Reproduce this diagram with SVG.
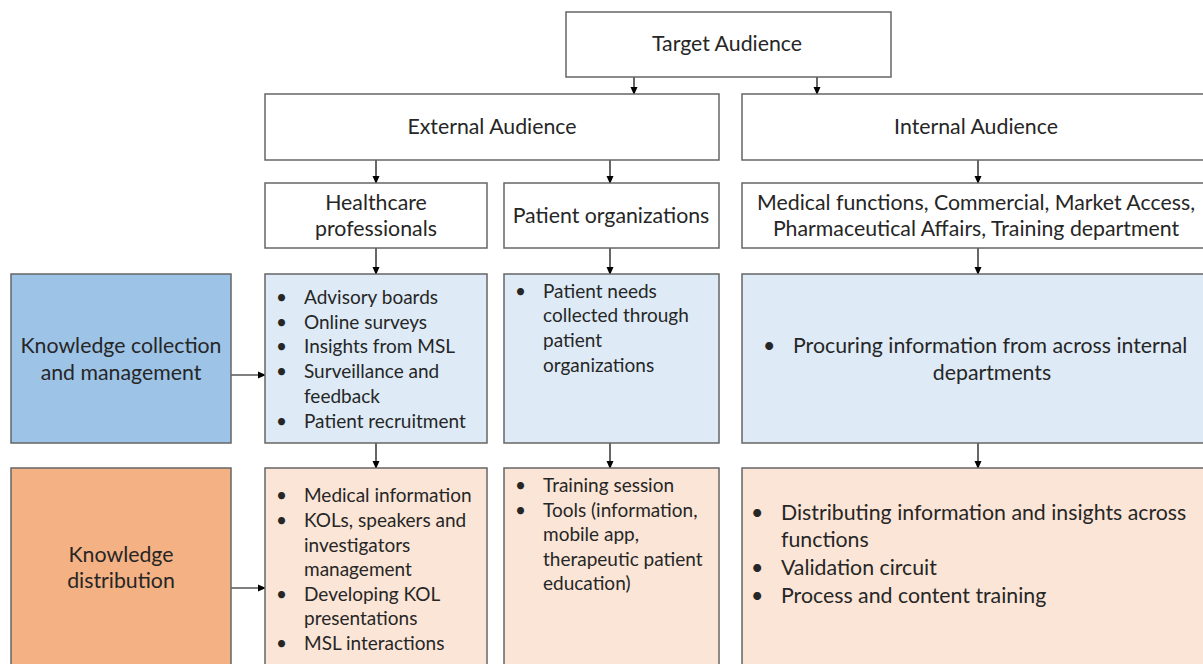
<svg xmlns="http://www.w3.org/2000/svg" width="1203" height="664" viewBox="0 0 1203 664">
<defs>
<marker id="ah" markerWidth="8" markerHeight="8" refX="7" refY="4" orient="auto" markerUnits="userSpaceOnUse">
<path d="M0,0.5 L8,4 L0,7.5 Z" fill="#000"/>
</marker>
<style>
.box{stroke:#666666;stroke-width:1.5}
.w{fill:#ffffff}
.lb{fill:#deebf7}
.db{fill:#9dc3e6}
.lo{fill:#fbe5d6}
.do{fill:#f4b183}
text{font-family:Lato,"Open Sans","Liberation Sans",sans-serif;font-size:21.3px;fill:#262626}
.c{text-anchor:middle}
.sm{font-size:19px}
.cn{stroke:#000;stroke-width:1.2;fill:none;marker-end:url(#ah)}
</style>
</defs>
<rect width="1203" height="664" fill="#fff"/>
<g id="connectors">
<line class="cn" x1="634" y1="77" x2="634" y2="94"/>
<line class="cn" x1="817" y1="77" x2="817" y2="94"/>
<line class="cn" x1="376" y1="160" x2="376" y2="183"/>
<line class="cn" x1="610" y1="160" x2="610" y2="183"/>
<line class="cn" x1="978" y1="160" x2="978" y2="183"/>
<line class="cn" x1="376" y1="248" x2="376" y2="274"/>
<line class="cn" x1="610" y1="248" x2="610" y2="274"/>
<line class="cn" x1="978" y1="248" x2="978" y2="274"/>
<line class="cn" x1="376" y1="443" x2="376" y2="468"/>
<line class="cn" x1="610" y1="443" x2="610" y2="468"/>
<line class="cn" x1="978" y1="443" x2="978" y2="468"/>
<line class="cn" x1="231" y1="375" x2="265" y2="375"/>
<line class="cn" x1="231" y1="588" x2="265" y2="588"/>
</g>
<g id="target">
<rect class="box w" x="566" y="12" width="325" height="65"/>
<text class="c" x="727" y="51">Target Audience</text>
</g>
<g id="external">
<rect class="box w" x="265" y="94" width="454" height="66"/>
<text class="c" x="492" y="134">External Audience</text>
</g>
<g id="internal">
<rect class="box w" x="742" y="94" width="470" height="66"/>
<text class="c" x="976" y="134">Internal Audience</text>
</g>
<g id="hcp">
<rect class="box w" x="265" y="183" width="222" height="65"/>
<text class="c" x="376" y="210">Healthcare</text>
<text class="c" x="376" y="236">professionals</text>
</g>
<g id="patorg">
<rect class="box w" x="504" y="183" width="215" height="65"/>
<text class="c" x="611" y="223">Patient organizations</text>
</g>
<g id="medfunc">
<rect class="box w" x="742" y="183" width="470" height="65"/>
<text class="c" x="976" y="210">Medical functions, Commercial, Market Access,</text>
<text class="c" x="976" y="236">Pharmaceutical Affairs, Training department</text>
</g>
<g id="kcm">
<rect class="box db" x="11" y="274" width="220" height="169"/>
<text class="c" x="121" y="353">Knowledge collection</text>
<text class="c" x="121" y="380">and management</text>
</g>
<g id="kd">
<rect class="box do" x="11" y="468" width="220" height="210"/>
<text class="c" x="121" y="562">Knowledge</text>
<text class="c" x="121" y="588">distribution</text>
</g>
<g id="hcp-collect">
<rect class="box lb" x="265" y="274" width="222" height="169"/>
<text class="sm" x="276" y="304">•</text><text class="sm" x="304" y="304">Advisory boards</text>
<text class="sm" x="276" y="329">•</text><text class="sm" x="304" y="329">Online surveys</text>
<text class="sm" x="276" y="353">•</text><text class="sm" x="304" y="353">Insights from MSL</text>
<text class="sm" x="276" y="378">•</text><text class="sm" x="304" y="378">Surveillance and</text>
<text class="sm" x="304" y="403">feedback</text>
<text class="sm" x="276" y="428">•</text><text class="sm" x="304" y="428">Patient recruitment</text>
</g>
<g id="pat-collect">
<rect class="box lb" x="504" y="274" width="215" height="169"/>
<text class="sm" x="515" y="298">•</text><text class="sm" x="543" y="298">Patient needs</text>
<text class="sm" x="543" y="322">collected through</text>
<text class="sm" x="543" y="347">patient</text>
<text class="sm" x="543" y="372">organizations</text>
</g>
<g id="int-collect">
<rect class="box lb" x="742" y="274" width="470" height="169"/>
<text x="763" y="353">•</text><text x="793" y="353">Procuring information from across internal</text>
<text class="c" x="992" y="380">departments</text>
</g>
<g id="hcp-dist">
<rect class="box lo" x="265" y="468" width="222" height="210"/>
<text class="sm" x="276" y="502">•</text><text class="sm" x="304" y="502">Medical information</text>
<text class="sm" x="276" y="527">•</text><text class="sm" x="304" y="527">KOLs, speakers and</text>
<text class="sm" x="304" y="552">investigators</text>
<text class="sm" x="304" y="576">management</text>
<text class="sm" x="276" y="601">•</text><text class="sm" x="304" y="601">Developing KOL</text>
<text class="sm" x="304" y="625">presentations</text>
<text class="sm" x="276" y="650">•</text><text class="sm" x="304" y="650">MSL interactions</text>
</g>
<g id="pat-dist">
<rect class="box lo" x="504" y="468" width="215" height="210"/>
<text class="sm" x="515" y="492">•</text><text class="sm" x="543" y="492">Training session</text>
<text class="sm" x="515" y="517">•</text><text class="sm" x="543" y="517">Tools (information,</text>
<text class="sm" x="543" y="541">mobile app,</text>
<text class="sm" x="543" y="566">therapeutic patient</text>
<text class="sm" x="543" y="590">education)</text>
</g>
<g id="int-dist">
<rect class="box lo" x="742" y="468" width="470" height="210"/>
<text x="751" y="520">•</text><text x="781" y="520">Distributing information and insights across</text>
<text x="781" y="547">functions</text>
<text x="751" y="575">•</text><text x="781" y="575">Validation circuit</text>
<text x="751" y="603">•</text><text x="781" y="603">Process and content training</text>
</g>
</svg>
